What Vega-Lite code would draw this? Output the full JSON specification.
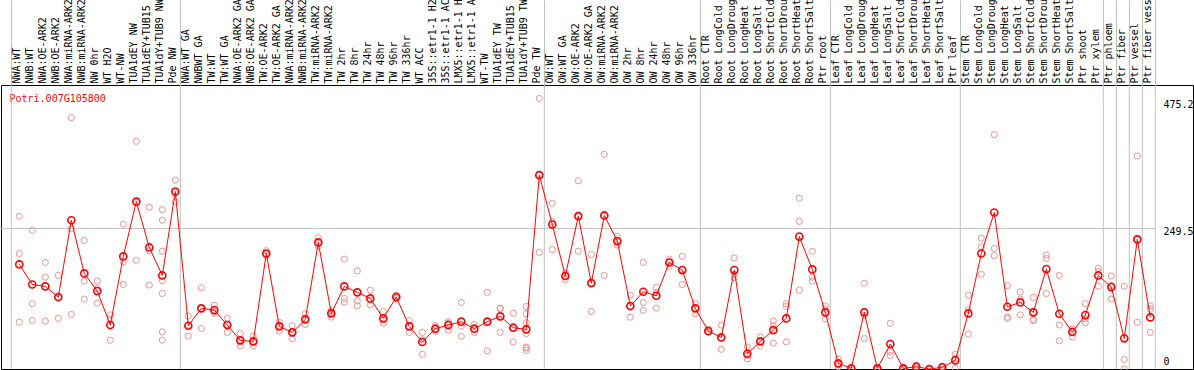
{
  "$schema": "https://vega.github.io/schema/vega-lite/v6.json",
  "width": 1192,
  "height": 284,
  "autosize": {"type": "none"},
  "padding": {"left": 1, "top": 85, "right": 1, "bottom": 1},
  "background": "white",
  "config": {"view": {"stroke": "black", "strokeWidth": 1}, "font": "DejaVu Sans Mono"},
  "resolve": {"axis": {"x": "independent", "y": "independent"}},
  "datasets": {
    "means": [
      {"i":0,"key":"00 NWA:WT","value":185.6},
      {"i":1,"key":"01 NWB:WT","value":150},
      {"i":2,"key":"02 NWA:OE-ARK2","value":146.6},
      {"i":3,"key":"03 NWB:OE-ARK2","value":127.7},
      {"i":4,"key":"04 NWA:miRNA-ARK2","value":264},
      {"i":5,"key":"05 NWB:miRNA-ARK2","value":169.6},
      {"i":6,"key":"06 NW 0hr","value":138.3},
      {"i":7,"key":"07 WT H2O","value":78},
      {"i":8,"key":"08 WT-NW","value":199.8},
      {"i":9,"key":"09 TUA1dEY NW","value":297},
      {"i":10,"key":"10 TUA1dEY+TUB15","value":215.7},
      {"i":11,"key":"11 TUA1dY+TUB9 NW","value":166},
      {"i":12,"key":"12 Pde NW","value":315},
      {"i":13,"key":"13 NWA:WT GA","value":76.8},
      {"i":14,"key":"14 NWBWT GA","value":107.6},
      {"i":15,"key":"15 TW:WT","value":104.6},
      {"i":16,"key":"16 TW:WT GA","value":78},
      {"i":17,"key":"17 NWA:OE-ARK2 GA","value":50.8},
      {"i":18,"key":"18 NWB:OE-ARK2 GA","value":49},
      {"i":19,"key":"19 TW:OE-ARK2","value":205},
      {"i":20,"key":"20 TW:OE-ARK2 GA","value":75.6},
      {"i":21,"key":"21 NWA:miRNA-ARK2","value":65},
      {"i":22,"key":"22 NWB:miRNA-ARK2","value":88},
      {"i":23,"key":"23 TW:miRNA-ARK2","value":224.6},
      {"i":24,"key":"24 TW:miRNA-ARK2","value":98.7},
      {"i":25,"key":"25 TW 2hr","value":146.6},
      {"i":26,"key":"26 TW 8hr","value":136},
      {"i":27,"key":"27 TW 24hr","value":125.3},
      {"i":28,"key":"28 TW 48hr","value":89.8},
      {"i":29,"key":"29 TW 96hr","value":127.7},
      {"i":30,"key":"30 TW 336hr","value":75.6},
      {"i":31,"key":"31 WT ACC","value":47.9},
      {"i":32,"key":"32 35S::etr1-1 H2","value":71.5},
      {"i":33,"key":"33 35S::etr1-1 AC","value":78},
      {"i":34,"key":"34 LMX5::etr1-1 H","value":84},
      {"i":35,"key":"35 LMX5::etr1-1 A","value":71.5},
      {"i":36,"key":"36 WT-TW","value":84},
      {"i":37,"key":"37 TUA1dEY TW","value":93.4},
      {"i":38,"key":"38 TUA1dEY+TUB15","value":73.3},
      {"i":39,"key":"39 TUA1dY+TUB9 TW","value":70.3},
      {"i":40,"key":"40 Pde TW","value":344},
      {"i":41,"key":"41 OW:WT","value":256.5},
      {"i":42,"key":"42 OW:WT GA","value":165},
      {"i":43,"key":"43 OW:OE-ARK2","value":271.3},
      {"i":44,"key":"44 OW:OE-ARK2 GA","value":152.5},
      {"i":45,"key":"45 OW:miRNA-ARK2","value":272.5},
      {"i":46,"key":"46 OW:miRNA-ARK2","value":227},
      {"i":47,"key":"47 OW 2hr","value":111.7},
      {"i":48,"key":"48 OW 8hr","value":137},
      {"i":49,"key":"49 OW 24hr","value":130},
      {"i":50,"key":"50 OW 48hr","value":189},
      {"i":51,"key":"51 OW 96hr","value":175.5},
      {"i":52,"key":"52 OW 336hr","value":107.6},
      {"i":53,"key":"53 Root CTR","value":67.4},
      {"i":54,"key":"54 Root LongCold","value":56},
      {"i":55,"key":"55 Root LongDroug","value":175.5},
      {"i":56,"key":"56 Root LongHeat","value":27},
      {"i":57,"key":"57 Root LongSalt","value":49},
      {"i":58,"key":"58 Root ShortCold","value":69},
      {"i":59,"key":"59 Root ShortDrou","value":89.8},
      {"i":60,"key":"60 Root ShortHeat","value":235},
      {"i":61,"key":"61 Root ShortSalt","value":176.7},
      {"i":62,"key":"62 Ptr root","value":100.5},
      {"i":63,"key":"63 Leaf CTR","value":10},
      {"i":64,"key":"64 Leaf LongCold","value":1.2},
      {"i":65,"key":"65 Leaf LongDroug","value":100.5},
      {"i":66,"key":"66 Leaf LongHeat","value":1},
      {"i":67,"key":"67 Leaf LongSalt","value":44.3},
      {"i":68,"key":"68 Leaf ShortCold","value":1},
      {"i":69,"key":"69 Leaf ShortDrou","value":4},
      {"i":70,"key":"70 Leaf ShortHeat","value":0},
      {"i":71,"key":"71 Leaf ShortSalt","value":3},
      {"i":72,"key":"72 Ptr leaf","value":15.4},
      {"i":73,"key":"73 Stem CTR","value":98.7},
      {"i":74,"key":"74 Stem LongCold","value":205},
      {"i":75,"key":"75 Stem LongDroug","value":277.8},
      {"i":76,"key":"76 Stem LongHeat","value":110.5},
      {"i":77,"key":"77 Stem LongSalt","value":118.2},
      {"i":78,"key":"78 Stem ShortCold","value":100.5},
      {"i":79,"key":"79 Stem ShortDrou","value":177.3},
      {"i":80,"key":"80 Stem ShortHeat","value":98},
      {"i":81,"key":"81 Stem ShortSalt","value":65.6},
      {"i":82,"key":"82 Ptr shoot","value":95.7},
      {"i":83,"key":"83 Ptr xylem","value":166},
      {"i":84,"key":"84 Ptr phloem","value":145.4},
      {"i":85,"key":"85 Ptr fiber","value":54.4},
      {"i":86,"key":"86 Ptr vessel","value":230},
      {"i":87,"key":"87 Ptr fiber vess","value":91.6}
    ],
    "reps": [
      {"i":0,"value":271},{"i":0,"value":205},{"i":0,"value":83},
      {"i":1,"value":246},{"i":1,"value":116},{"i":1,"value":86},
      {"i":2,"value":189},{"i":2,"value":163},{"i":2,"value":85},
      {"i":3,"value":166},{"i":3,"value":90},{"i":3,"value":127},
      {"i":4,"value":446},{"i":4,"value":249},{"i":4,"value":97},
      {"i":5,"value":228},{"i":5,"value":156},{"i":5,"value":124},
      {"i":6,"value":156},{"i":6,"value":143},{"i":6,"value":117},
      {"i":7,"value":96},{"i":7,"value":88},{"i":7,"value":51},
      {"i":8,"value":257},{"i":8,"value":190},{"i":8,"value":150},
      {"i":9,"value":404},{"i":9,"value":193},{"i":9,"value":295},
      {"i":10,"value":287},{"i":10,"value":210},{"i":10,"value":149},
      {"i":11,"value":283},{"i":11,"value":264},{"i":11,"value":209},{"i":11,"value":157},{"i":11,"value":134},{"i":11,"value":66},{"i":11,"value":51},
      {"i":12,"value":335},{"i":12,"value":297},{"i":12,"value":313},
      {"i":13,"value":94},{"i":13,"value":58},{"i":13,"value":78},
      {"i":14,"value":144},{"i":14,"value":72},{"i":14,"value":107},
      {"i":15,"value":113},{"i":15,"value":99},{"i":15,"value":102},
      {"i":16,"value":90},{"i":16,"value":65},{"i":16,"value":79},
      {"i":17,"value":63},{"i":17,"value":41},{"i":17,"value":48},
      {"i":18,"value":58},{"i":18,"value":41},{"i":18,"value":47},
      {"i":19,"value":210},{"i":19,"value":201},{"i":19,"value":204},
      {"i":20,"value":83},{"i":20,"value":67},{"i":20,"value":77},
      {"i":21,"value":77},{"i":21,"value":54},{"i":21,"value":64},
      {"i":22,"value":98},{"i":22,"value":79},{"i":22,"value":87},
      {"i":23,"value":233},{"i":23,"value":218},{"i":23,"value":223},
      {"i":24,"value":104},{"i":24,"value":92},{"i":24,"value":100},
      {"i":25,"value":195},{"i":25,"value":125},{"i":25,"value":119},
      {"i":26,"value":174},{"i":26,"value":121},{"i":26,"value":112},
      {"i":27,"value":140},{"i":27,"value":122},{"i":27,"value":114},
      {"i":28,"value":102},{"i":28,"value":81},{"i":28,"value":87},
      {"i":29,"value":131},{"i":29,"value":125},{"i":29,"value":127},
      {"i":30,"value":86},{"i":30,"value":65},{"i":30,"value":76},
      {"i":31,"value":65},{"i":31,"value":26},{"i":31,"value":52},
      {"i":32,"value":77},{"i":32,"value":67},{"i":32,"value":70},
      {"i":33,"value":84},{"i":33,"value":69},{"i":33,"value":81},
      {"i":34,"value":118},{"i":34,"value":76},{"i":34,"value":58},
      {"i":35,"value":79},{"i":35,"value":65},{"i":35,"value":71},
      {"i":36,"value":136},{"i":36,"value":32},{"i":36,"value":84},
      {"i":37,"value":108},{"i":37,"value":65},{"i":37,"value":107},
      {"i":38,"value":99},{"i":38,"value":48},{"i":38,"value":73},
      {"i":39,"value":111},{"i":39,"value":98},{"i":39,"value":82},{"i":39,"value":63},{"i":39,"value":39},{"i":39,"value":37},{"i":39,"value":33},
      {"i":40,"value":480},{"i":40,"value":207},{"i":40,"value":345},
      {"i":41,"value":294},{"i":41,"value":261},{"i":41,"value":212},
      {"i":42,"value":170},{"i":42,"value":159},{"i":42,"value":166},
      {"i":43,"value":334},{"i":43,"value":209},{"i":43,"value":270},
      {"i":44,"value":203},{"i":44,"value":102},{"i":44,"value":152},
      {"i":45,"value":381},{"i":45,"value":166},{"i":45,"value":271},
      {"i":46,"value":235},{"i":46,"value":220},{"i":46,"value":226},
      {"i":47,"value":131},{"i":47,"value":92},{"i":47,"value":112},
      {"i":48,"value":189},{"i":48,"value":118},{"i":48,"value":104},
      {"i":49,"value":145},{"i":49,"value":136},{"i":49,"value":108},
      {"i":50,"value":195},{"i":50,"value":182},{"i":50,"value":190},
      {"i":51,"value":200},{"i":51,"value":150},{"i":51,"value":177},
      {"i":52,"value":116},{"i":52,"value":98},{"i":52,"value":108},
      {"i":53,"value":71},{"i":53,"value":65},{"i":53,"value":66},
      {"i":54,"value":78},{"i":54,"value":35},{"i":54,"value":55},
      {"i":55,"value":197},{"i":55,"value":162},{"i":55,"value":168},
      {"i":56,"value":39},{"i":56,"value":18},{"i":56,"value":24},
      {"i":57,"value":57},{"i":57,"value":41},{"i":57,"value":49},
      {"i":58,"value":85},{"i":58,"value":77},{"i":58,"value":46},
      {"i":59,"value":116},{"i":59,"value":111},{"i":59,"value":48},
      {"i":60,"value":303},{"i":60,"value":262},{"i":60,"value":140},
      {"i":61,"value":209},{"i":61,"value":163},{"i":61,"value":156},
      {"i":62,"value":112},{"i":62,"value":106},{"i":62,"value":89},
      {"i":63,"value":18},{"i":63,"value":4},{"i":63,"value":8},
      {"i":64,"value":0},{"i":64,"value":1},{"i":64,"value":2},
      {"i":65,"value":152},{"i":65,"value":54},{"i":65,"value":95},
      {"i":66,"value":0},{"i":66,"value":1},{"i":66,"value":2},
      {"i":67,"value":81},{"i":67,"value":31},{"i":67,"value":24},
      {"i":68,"value":2},{"i":68,"value":0},{"i":68,"value":1},
      {"i":69,"value":7},{"i":69,"value":1},{"i":69,"value":4},
      {"i":70,"value":0},{"i":70,"value":0},{"i":70,"value":0},
      {"i":71,"value":5},{"i":71,"value":0},{"i":71,"value":4},
      {"i":72,"value":26},{"i":72,"value":1},{"i":72,"value":19},
      {"i":73,"value":131},{"i":73,"value":105},{"i":73,"value":62},
      {"i":74,"value":232},{"i":74,"value":217},{"i":74,"value":168},
      {"i":75,"value":416},{"i":75,"value":214},{"i":75,"value":201},
      {"i":76,"value":148},{"i":76,"value":92},{"i":76,"value":90},
      {"i":77,"value":137},{"i":77,"value":124},{"i":77,"value":96},
      {"i":78,"value":127},{"i":78,"value":88},{"i":78,"value":86},
      {"i":79,"value":202},{"i":79,"value":196},{"i":79,"value":134},
      {"i":80,"value":166},{"i":80,"value":78},{"i":80,"value":50},
      {"i":81,"value":71},{"i":81,"value":57},{"i":81,"value":68},
      {"i":82,"value":116},{"i":82,"value":82},{"i":82,"value":89},
      {"i":83,"value":179},{"i":83,"value":173},{"i":83,"value":147},
      {"i":84,"value":165},{"i":84,"value":124},{"i":84,"value":148},
      {"i":85,"value":147},{"i":85,"value":17},{"i":85,"value":0},
      {"i":86,"value":378},{"i":86,"value":83},{"i":86,"value":230},
      {"i":87,"value":112},{"i":87,"value":106},{"i":87,"value":65}
    ],
    "bounds": [
      {"key":"-1 "},{"key":"12 Pde NW"},{"key":"40 Pde TW"},{"key":"52 OW 336hr"},{"key":"62 Ptr root"},{"key":"72 Ptr leaf"},
      {"key":"83 Ptr xylem"},{"key":"84 Ptr phloem"},{"key":"85 Ptr fiber"},{"key":"86 Ptr vessel"},{"key":"87 Ptr fiber vess"}
    ]
  },
  "layer": [
    {
      "data": {"name": "bounds"},
      "mark": {"type": "rule", "color": "#c0c0c0", "strokeWidth": 1, "xOffset": 5},
      "encoding": {
        "x": {
          "field": "key", "type": "ordinal",
          "scale": {"type": "point", "range": [5.3, 1149.3], "padding": 0},
          "axis": {
            "orient": "top", "title": null, "domain": false, "grid": false, "labels": false,
            "values": ["-1 ", "12 Pde NW", "40 Pde TW", "52 OW 336hr", "62 Ptr root", "72 Ptr leaf", "83 Ptr xylem", "84 Ptr phloem", "85 Ptr fiber", "86 Ptr vessel", "87 Ptr fiber vess"],
            "ticks": true, "tickSize": 85, "tickColor": "#c0c0c0", "tickWidth": 1, "tickOffset": 5
          }
        }
      }
    },
    {
      "data": {"values": [{"level": 249.5}]},
      "mark": {"type": "rule", "color": "#c0c0c0", "strokeWidth": 1, "xOffset": -6, "x2Offset": 5},
      "encoding": {
        "x": {"datum": "-1 ", "type": "ordinal", "scale": {"type": "point", "range": [5.3, 1149.3], "padding": 0}, "axis": null},
        "x2": {"datum": "87 Ptr fiber vess"},
        "y": {"field": "level", "type": "quantitative", "scale": {"domain": [0, 504], "nice": false, "zero": true}, "axis": null}
      }
    },
    {
      "data": {"name": "reps"},
      "transform": [{"lookup": "i", "from": {"data": {"name": "means"}, "key": "i", "fields": ["key"]}}],
      "mark": {"type": "point", "shape": "circle", "filled": false, "color": "#ee9494", "size": 38, "strokeWidth": 1, "opacity": 1},
      "encoding": {
        "x": {"field": "key", "type": "ordinal", "scale": {"type": "point", "range": [5.3, 1149.3], "padding": 0}, "axis": null},
        "y": {"field": "value", "type": "quantitative", "scale": {"domain": [0, 504], "nice": false, "zero": true}, "axis": null}
      }
    },
    {
      "data": {"name": "means"},
      "mark": {"type": "line", "color": "#ff0000", "strokeWidth": 1},
      "encoding": {
        "x": {"field": "key", "type": "ordinal", "scale": {"type": "point", "range": [5.3, 1149.3], "padding": 0}, "axis": null},
        "y": {"field": "value", "type": "quantitative", "scale": {"domain": [0, 504], "nice": false, "zero": true}, "axis": null}
      }
    },
    {
      "data": {"name": "means"},
      "mark": {"type": "point", "shape": "circle", "filled": false, "color": "#ff0000", "size": 50, "strokeWidth": 1.6, "opacity": 1},
      "encoding": {
        "x": {
          "field": "key", "type": "ordinal",
          "scale": {"type": "point", "range": [5.3, 1149.3], "padding": 0},
          "axis": {
            "orient": "top", "title": null, "domain": false, "grid": false, "ticks": false,
            "labelAngle": 270, "labelAlign": "left", "labelBaseline": "alphabetic",
            "labelPadding": 2, "labelFont": "DejaVu Sans Mono", "labelFontSize": 10, "labelColor": "black",
            "labelOverlap": false, "labelExpr": "slice(datum.value, 3)"
          }
        },
        "y": {
          "field": "value", "type": "quantitative",
          "scale": {"domain": [0, 504], "nice": false, "zero": true},
          "axis": {
            "orient": "right", "values": [0, 249.5, 475.2],
            "labelExpr": "datum.value == 0 ? '0' : format(datum.value, '.1f')",
            "grid": false, "ticks": false, "domain": false,
            "labelPadding": -30, "labelAlign": "left",
            "labelFlush": true, "labelFlushOffset": -6, "labelOffset": 3,
            "labelFont": "DejaVu Sans Mono", "labelFontSize": 10, "labelColor": "black",
            "title": "Potri.007G105800", "titleAngle": 0, "titleAlign": "left", "titleBaseline": "top",
            "titleX": -1184, "titleY": 8, "titleColor": "#ff0000",
            "titleFont": "DejaVu Sans Mono", "titleFontSize": 10, "titleFontWeight": "normal"
          }
        }
      }
    }
  ]
}
